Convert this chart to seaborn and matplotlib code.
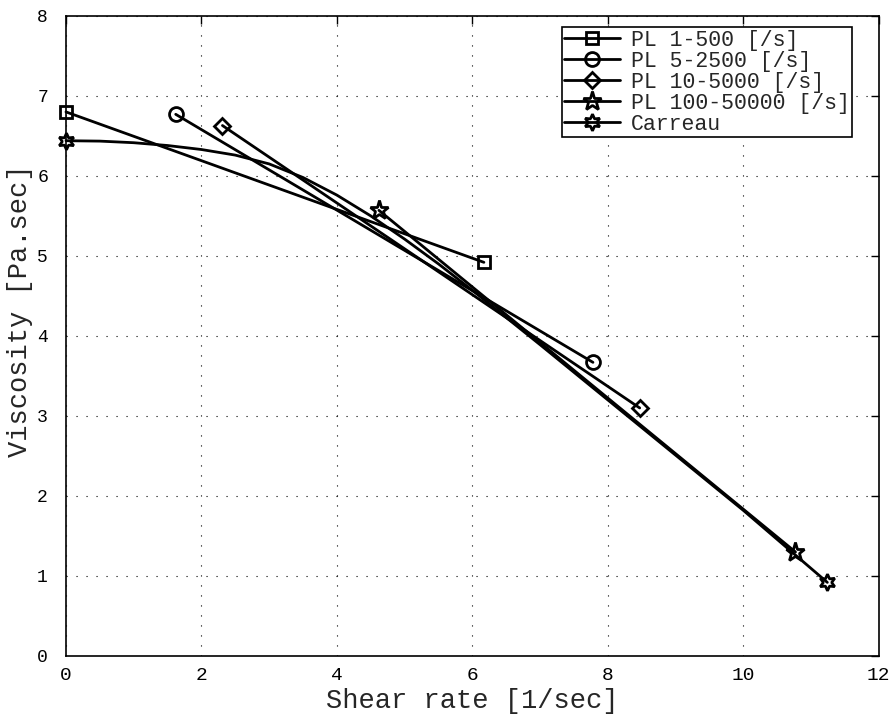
import matplotlib
matplotlib.use("Agg")
import matplotlib.pyplot as plt
import seaborn as sns

# Data (log shear rate vs log viscosity)
pl1_x = [0.0, 6.17]
pl1_y = [6.80, 4.92]
pl5_x = [1.62, 7.78]
pl5_y = [6.77, 3.67]
pl10_x = [2.31, 8.47]
pl10_y = [6.63, 3.10]
pl100_x = [4.62, 10.77]
pl100_y = [5.57, 1.30]
carreau_x = [0.0, 0.5, 1.0, 1.5, 2.0, 2.5, 3.0, 3.5, 4.0, 4.5, 5.0, 5.5, 6.0, 7.0, 8.0, 9.0, 10.0, 11.24]
carreau_y = [6.44, 6.435, 6.415, 6.38, 6.33, 6.26, 6.15, 5.98, 5.76, 5.50, 5.21, 4.90, 4.57, 3.89, 3.20, 2.51, 1.82, 0.92]

labels = ["PL 1-500 [/s]", "PL 5-2500 [/s]", "PL 10-5000 [/s]", "PL 100-50000 [/s]", "Carreau"]
x_ticks = [0, 2, 4, 6, 8, 10, 12]
y_ticks = [0, 1, 2, 3, 4, 5, 6, 7, 8]

sns.set_style("white")
plt.rcParams['font.family'] = ['Liberation Mono', 'DejaVu Sans Mono']

fig = plt.figure(figsize=(8.94, 7.16), dpi=100)
ax = fig.add_axes([0.0738, 0.0838, 0.9092, 0.894])

series = [
    (pl1_x, pl1_y, 's', 9),
    (pl5_x, pl5_y, 'o', 10),
    (pl10_x, pl10_y, 'D', 8),
    (pl100_x, pl100_y, '*', 14),
    (carreau_x, carreau_y, (6, 1, 0), 12),
]
for (xs, ys, mk, ms), lab in zip(series, labels):
    sns.lineplot(x=xs, y=ys, ax=ax, color='black', linewidth=2.0,
                 marker=mk, markersize=ms, markerfacecolor='none',
                 markeredgecolor='black', markeredgewidth=2.0,
                 markevery=[0, len(xs) - 1], label=lab, clip_on=False,
                 estimator=None, sort=False)

ax.set_xlim(0, 12)
ax.set_ylim(0, 8)
ax.set_xticks(x_ticks)
ax.set_yticks(y_ticks)
ax.set_xticklabels([str(v) for v in x_ticks], fontsize=14)
ax.set_yticklabels([str(v) for v in y_ticks], fontsize=13)
ax.tick_params(direction='in', top=True, right=True, length=6, width=1, colors='black')
ax.tick_params(axis='x', pad=8)
ax.tick_params(axis='y', pad=13)
ax.grid(True, color='black', linestyle=(0, (1, 8)), linewidth=0.8)
for sp in ax.spines.values():
    sp.set_visible(True)
    sp.set_color('black')
    sp.set_linewidth(1.2)

ax.set_xlabel("Shear rate [1/sec]", fontsize=19.5, labelpad=3)
ax.set_ylabel("Viscosity [Pa.sec]", fontsize=19.5)
ax.yaxis.set_label_coords(-0.041, 0.54)

leg = ax.legend(loc='upper right', bbox_to_anchor=(0.967, 0.982), fontsize=15.5,
                frameon=True, fancybox=False, edgecolor='black', framealpha=1,
                labelspacing=0.0, handlelength=2.6, handletextpad=0.5,
                borderpad=0.1, borderaxespad=0.0)
leg.get_frame().set_linewidth(1.2)

fig.savefig("out.png", dpi=100)
